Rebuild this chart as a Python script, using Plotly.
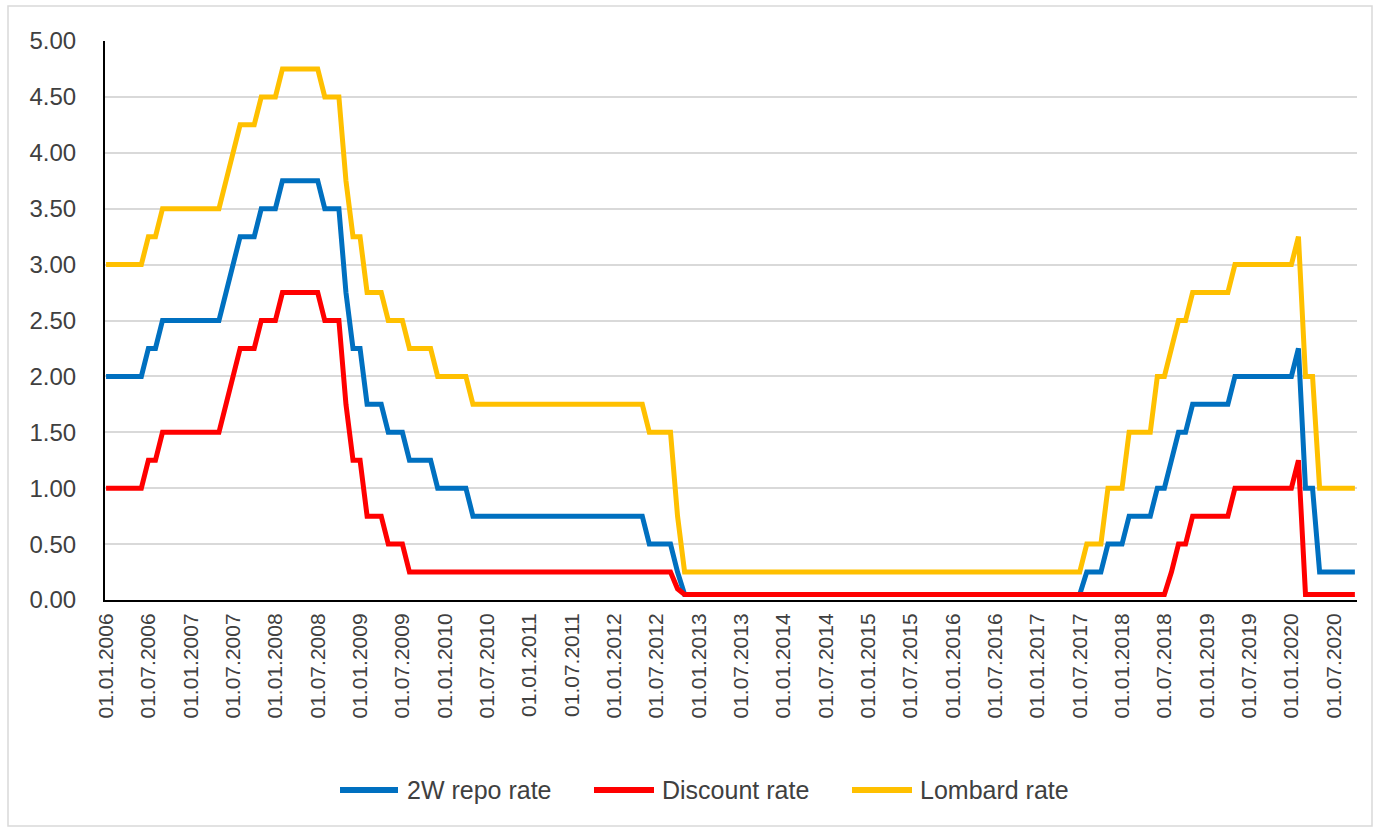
import plotly.graph_objects as go

# Month-end CNB policy rates (%), January 2006 - October 2020, one row per year
repo_2w = [
    2.00, 2.00, 2.00, 2.00, 2.00, 2.00, 2.25, 2.25, 2.50, 2.50, 2.50, 2.50,  # 2006
    2.50, 2.50, 2.50, 2.50, 2.50, 2.75, 3.00, 3.25, 3.25, 3.25, 3.50, 3.50,  # 2007
    3.50, 3.75, 3.75, 3.75, 3.75, 3.75, 3.75, 3.50, 3.50, 3.50, 2.75, 2.25,  # 2008
    2.25, 1.75, 1.75, 1.75, 1.50, 1.50, 1.50, 1.25, 1.25, 1.25, 1.25, 1.00,  # 2009
    1.00, 1.00, 1.00, 1.00, 0.75, 0.75, 0.75, 0.75, 0.75, 0.75, 0.75, 0.75,  # 2010
    0.75, 0.75, 0.75, 0.75, 0.75, 0.75, 0.75, 0.75, 0.75, 0.75, 0.75, 0.75,  # 2011
    0.75, 0.75, 0.75, 0.75, 0.75, 0.50, 0.50, 0.50, 0.50, 0.25, 0.05, 0.05,  # 2012
    0.05, 0.05, 0.05, 0.05, 0.05, 0.05, 0.05, 0.05, 0.05, 0.05, 0.05, 0.05,  # 2013
    0.05, 0.05, 0.05, 0.05, 0.05, 0.05, 0.05, 0.05, 0.05, 0.05, 0.05, 0.05,  # 2014
    0.05, 0.05, 0.05, 0.05, 0.05, 0.05, 0.05, 0.05, 0.05, 0.05, 0.05, 0.05,  # 2015
    0.05, 0.05, 0.05, 0.05, 0.05, 0.05, 0.05, 0.05, 0.05, 0.05, 0.05, 0.05,  # 2016
    0.05, 0.05, 0.05, 0.05, 0.05, 0.05, 0.05, 0.25, 0.25, 0.25, 0.50, 0.50,  # 2017
    0.50, 0.75, 0.75, 0.75, 0.75, 1.00, 1.00, 1.25, 1.50, 1.50, 1.75, 1.75,  # 2018
    1.75, 1.75, 1.75, 1.75, 2.00, 2.00, 2.00, 2.00, 2.00, 2.00, 2.00, 2.00,  # 2019
    2.00, 2.25, 1.00, 1.00, 0.25, 0.25, 0.25, 0.25, 0.25, 0.25,              # 2020
]

discount = [
    1.00, 1.00, 1.00, 1.00, 1.00, 1.00, 1.25, 1.25, 1.50, 1.50, 1.50, 1.50,  # 2006
    1.50, 1.50, 1.50, 1.50, 1.50, 1.75, 2.00, 2.25, 2.25, 2.25, 2.50, 2.50,  # 2007
    2.50, 2.75, 2.75, 2.75, 2.75, 2.75, 2.75, 2.50, 2.50, 2.50, 1.75, 1.25,  # 2008
    1.25, 0.75, 0.75, 0.75, 0.50, 0.50, 0.50, 0.25, 0.25, 0.25, 0.25, 0.25,  # 2009
    0.25, 0.25, 0.25, 0.25, 0.25, 0.25, 0.25, 0.25, 0.25, 0.25, 0.25, 0.25,  # 2010
    0.25, 0.25, 0.25, 0.25, 0.25, 0.25, 0.25, 0.25, 0.25, 0.25, 0.25, 0.25,  # 2011
    0.25, 0.25, 0.25, 0.25, 0.25, 0.25, 0.25, 0.25, 0.25, 0.10, 0.05, 0.05,  # 2012
    0.05, 0.05, 0.05, 0.05, 0.05, 0.05, 0.05, 0.05, 0.05, 0.05, 0.05, 0.05,  # 2013
    0.05, 0.05, 0.05, 0.05, 0.05, 0.05, 0.05, 0.05, 0.05, 0.05, 0.05, 0.05,  # 2014
    0.05, 0.05, 0.05, 0.05, 0.05, 0.05, 0.05, 0.05, 0.05, 0.05, 0.05, 0.05,  # 2015
    0.05, 0.05, 0.05, 0.05, 0.05, 0.05, 0.05, 0.05, 0.05, 0.05, 0.05, 0.05,  # 2016
    0.05, 0.05, 0.05, 0.05, 0.05, 0.05, 0.05, 0.05, 0.05, 0.05, 0.05, 0.05,  # 2017
    0.05, 0.05, 0.05, 0.05, 0.05, 0.05, 0.05, 0.25, 0.50, 0.50, 0.75, 0.75,  # 2018
    0.75, 0.75, 0.75, 0.75, 1.00, 1.00, 1.00, 1.00, 1.00, 1.00, 1.00, 1.00,  # 2019
    1.00, 1.25, 0.05, 0.05, 0.05, 0.05, 0.05, 0.05, 0.05, 0.05,              # 2020
]

lombard = [
    3.00, 3.00, 3.00, 3.00, 3.00, 3.00, 3.25, 3.25, 3.50, 3.50, 3.50, 3.50,  # 2006
    3.50, 3.50, 3.50, 3.50, 3.50, 3.75, 4.00, 4.25, 4.25, 4.25, 4.50, 4.50,  # 2007
    4.50, 4.75, 4.75, 4.75, 4.75, 4.75, 4.75, 4.50, 4.50, 4.50, 3.75, 3.25,  # 2008
    3.25, 2.75, 2.75, 2.75, 2.50, 2.50, 2.50, 2.25, 2.25, 2.25, 2.25, 2.00,  # 2009
    2.00, 2.00, 2.00, 2.00, 1.75, 1.75, 1.75, 1.75, 1.75, 1.75, 1.75, 1.75,  # 2010
    1.75, 1.75, 1.75, 1.75, 1.75, 1.75, 1.75, 1.75, 1.75, 1.75, 1.75, 1.75,  # 2011
    1.75, 1.75, 1.75, 1.75, 1.75, 1.50, 1.50, 1.50, 1.50, 0.75, 0.25, 0.25,  # 2012
    0.25, 0.25, 0.25, 0.25, 0.25, 0.25, 0.25, 0.25, 0.25, 0.25, 0.25, 0.25,  # 2013
    0.25, 0.25, 0.25, 0.25, 0.25, 0.25, 0.25, 0.25, 0.25, 0.25, 0.25, 0.25,  # 2014
    0.25, 0.25, 0.25, 0.25, 0.25, 0.25, 0.25, 0.25, 0.25, 0.25, 0.25, 0.25,  # 2015
    0.25, 0.25, 0.25, 0.25, 0.25, 0.25, 0.25, 0.25, 0.25, 0.25, 0.25, 0.25,  # 2016
    0.25, 0.25, 0.25, 0.25, 0.25, 0.25, 0.25, 0.50, 0.50, 0.50, 1.00, 1.00,  # 2017
    1.00, 1.50, 1.50, 1.50, 1.50, 2.00, 2.00, 2.25, 2.50, 2.50, 2.75, 2.75,  # 2018
    2.75, 2.75, 2.75, 2.75, 3.00, 3.00, 3.00, 3.00, 3.00, 3.00, 3.00, 3.00,  # 2019
    3.00, 3.25, 2.00, 2.00, 1.00, 1.00, 1.00, 1.00, 1.00, 1.00,              # 2020
]

# Monthly category labels (first day of each month)
periods = [f"01.{mo:02d}.{yr}" for yr in range(2006, 2021) for mo in range(1, 13)][:len(repo_2w)]
tick_labels = periods[::6]

series = [
    ("2W repo rate", repo_2w, "#0070C0"),
    ("Discount rate", discount, "#FF0000"),
    ("Lombard rate", lombard, "#FFC000"),
]

FIG_W, FIG_H = 1380, 832
PLOT_L, PLOT_R, PLOT_T, PLOT_B = 105, 1357, 41, 600
TEXT = "#404040"
FONT = "Liberation Sans, Arial, sans-serif"


def px_x(p):
    return (p - PLOT_L) / (PLOT_R - PLOT_L)


def px_y(p):
    return (PLOT_B - p) / (PLOT_B - PLOT_T)


fig = go.Figure()
for name, values, color in series:
    fig.add_trace(go.Scatter(
        x=periods, y=values, mode="lines", name=name,
        line=dict(color=color, width=5),
        showlegend=False,
    ))

shapes = [
    # chart-area border
    dict(type="rect", xref="paper", yref="paper",
         x0=px_x(8), x1=px_x(1372), y0=px_y(826), y1=px_y(6),
         line=dict(color="#D9D9D9", width=1.5), layer="below"),
]
annotations = []

# legend row below the axis labels
legend_items = [(340, 398, 405), (594, 654, 660), (852, 912, 918)]
legend_y = 790
for (name, _, color), (lx0, lx1, tx) in zip(series, legend_items):
    shapes.append(dict(type="line", xref="paper", yref="paper",
                       x0=px_x(lx0), x1=px_x(lx1), y0=px_y(legend_y), y1=px_y(legend_y),
                       line=dict(color=color, width=6)))
    annotations.append(dict(xref="paper", yref="paper", x=px_x(tx), y=px_y(legend_y),
                            xanchor="left", yanchor="middle", showarrow=False,
                            text=name, font=dict(family=FONT, size=25, color=TEXT)))

fig.update_layout(
    width=FIG_W, height=FIG_H,
    margin=dict(l=PLOT_L, r=FIG_W - PLOT_R, t=PLOT_T, b=FIG_H - PLOT_B, pad=0),
    paper_bgcolor="white", plot_bgcolor="white",
    showlegend=False,
    shapes=shapes, annotations=annotations,
    xaxis=dict(
        type="category", categoryorder="array", categoryarray=periods,
        range=[-0.15, len(periods) - 1 + 0.3],
        tickmode="array", tickvals=tick_labels, ticktext=tick_labels,
        tickangle=-90, ticks="", showgrid=False, zeroline=False,
        showline=True, linecolor="black", linewidth=2,
        ticklabelstandoff=3,
        tickfont=dict(family=FONT, size=21, color=TEXT),
    ),
    yaxis=dict(
        range=[0, 5], tick0=0, dtick=0.5, tickformat=".2f",
        showgrid=True, gridcolor="#D9D9D9", gridwidth=1.5,
        zeroline=False, showline=True, linecolor="black", linewidth=2,
        ticks="", ticklabelstandoff=22,
        tickfont=dict(family=FONT, size=24, color=TEXT),
    ),
)

fig.write_html("out.html")
